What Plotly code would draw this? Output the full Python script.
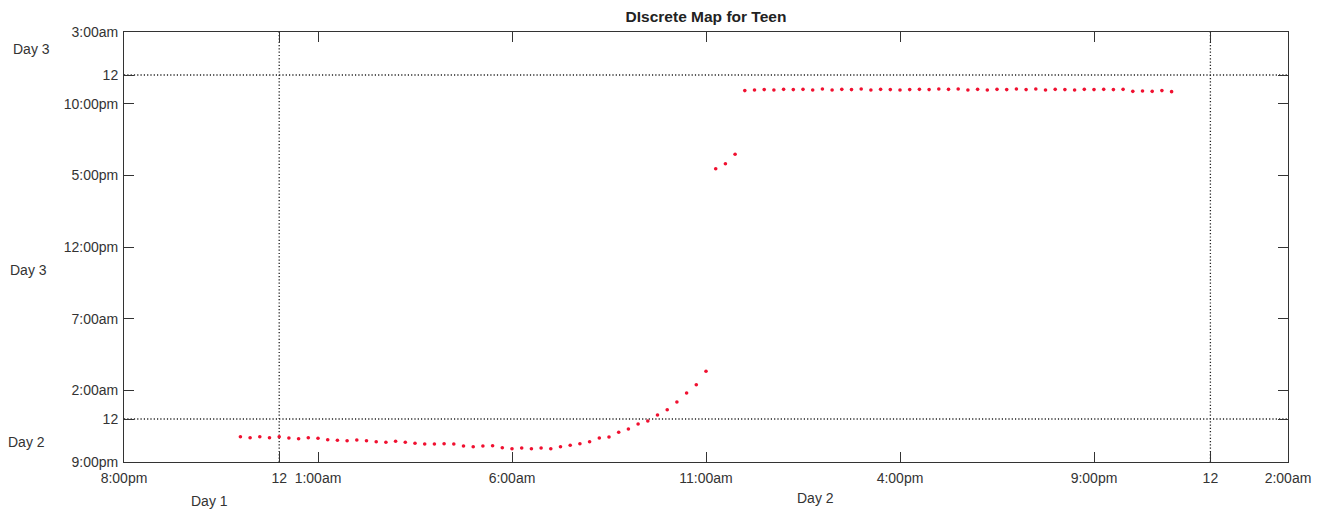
import plotly.graph_objects as go

# x: hours after 8:00pm Day 1 ; y: hours after 9:00pm Day 2
early_x = [3.0, 3.25, 3.5, 3.75, 4.0, 4.25, 4.5, 4.75, 5.0, 5.25, 5.5, 5.75,
           6.0, 6.25, 6.5, 6.75, 7.0, 7.25, 7.5, 7.75, 8.0, 8.25, 8.5, 8.75,
           9.0, 9.25, 9.5, 9.75, 10.0, 10.25, 10.5, 10.75, 11.0, 11.25, 11.5, 11.75,
           12.0, 12.25, 12.5, 12.75, 13.0, 13.25, 13.5, 13.75, 14.0, 14.25, 14.5, 14.75, 15.0]
early_y = [1.765, 1.695, 1.765, 1.695, 1.765, 1.674, 1.626, 1.695, 1.654, 1.556,
           1.514, 1.486, 1.535, 1.486, 1.416, 1.374, 1.444, 1.374, 1.305, 1.256,
           1.256, 1.277, 1.256, 1.116, 1.067, 1.116, 1.137, 0.998, 0.928, 0.977,
           0.928, 0.977, 0.928, 1.067, 1.165, 1.277, 1.416, 1.674, 1.744, 2.072,
           2.302, 2.651, 2.860, 3.279, 3.649, 4.186, 4.814, 5.393, 6.328]

mid_x = [15.25, 15.5, 15.75]
mid_y = [20.46, 20.81, 21.47]

late_x = [16.0, 16.25, 16.5, 16.75, 17.0, 17.25, 17.5, 17.75, 18.0, 18.25, 18.5, 18.75,
          19.0, 19.25, 19.5, 19.75, 20.0, 20.25, 20.5, 20.75, 21.0, 21.25, 21.5, 21.75,
          22.0, 22.25, 22.5, 22.75, 23.0, 23.25, 23.5, 23.75, 24.0, 24.25, 24.5, 24.75,
          25.0, 25.25, 25.5, 25.75, 26.0, 26.25, 26.5, 26.75, 27.0]
late_y = [25.91, 25.95, 25.98, 25.95, 26.00, 25.98, 26.00, 25.95, 26.02, 25.95, 26.00, 25.98,
          26.02, 25.95, 26.00, 25.98, 25.95, 25.98, 26.00, 25.98, 26.02, 26.00, 26.02, 25.95,
          26.00, 25.95, 26.00, 25.98, 26.02, 25.98, 26.02, 25.95, 26.00, 25.98, 25.95, 26.00,
          25.98, 26.00, 25.98, 26.00, 25.86, 25.88, 25.86, 25.91, 25.84]

x_tickvals = [0, 4, 5, 10, 15, 20, 25, 28, 30]
x_ticktext = ["8:00pm", "12", "1:00am", "6:00am", "11:00am", "4:00pm", "9:00pm", "12", "2:00am"]
y_tickvals = [0, 3, 5, 10, 15, 20, 25, 27, 30]
y_ticktext = ["9:00pm", "12", "2:00am", "7:00am", "12:00pm", "5:00pm", "10:00pm", "12", "3:00am"]

midnight_x = [4, 28]
midnight_y = [3, 27]

day_labels_y = [("Day 3", 28.81), ("Day 3", 13.4), ("Day 2", 1.42)]
day_labels_x = [("Day 1", 2.2), ("Day 2", 17.83)]

FONT = "Liberation Sans, Arial, Helvetica, sans-serif"
TXT = "#333333"
FS = 14

fig = go.Figure()
for xs, ys in [(early_x, early_y), (mid_x, mid_y), (late_x, late_y)]:
    fig.add_trace(go.Scatter(x=xs, y=ys, mode="markers",
                             marker=dict(color="#f01030", size=3.6, line=dict(width=0)),
                             showlegend=False, hoverinfo="x+y"))

for xv in midnight_x:
    fig.add_shape(type="line", xref="x", yref="y", x0=xv, x1=xv, y0=0, y1=30,
                  line=dict(color="#222222", width=1.3, dash="1.2px,2.1px"), layer="below")
for yv in midnight_y:
    fig.add_shape(type="line", xref="x", yref="y", x0=0, x1=30, y0=yv, y1=yv,
                  line=dict(color="#222222", width=1.3, dash="1.2px,2.1px"), layer="below")

y_label_x = [-93, -96, -98]
for (txt, yv), dx in zip(day_labels_y, y_label_x):
    fig.add_annotation(text=txt, xref="paper", x=0, xshift=dx, xanchor="center",
                       y=yv, yref="y", showarrow=False,
                       font=dict(family=FONT, size=FS, color=TXT))
x_label_dy = [-39, -36]
for (txt, xv), dy in zip(day_labels_x, x_label_dy):
    fig.add_annotation(text=txt, xref="x", x=xv, xanchor="center", yref="paper", y=0,
                       yshift=dy, yanchor="middle", showarrow=False,
                       font=dict(family=FONT, size=FS, color=TXT))

axis_common = dict(showgrid=False, zeroline=False, showline=True, linecolor="#333333",
                   linewidth=1, mirror="ticks", ticks="inside", ticklen=10,
                   tickcolor="#333333", tickwidth=1,
                   tickfont=dict(family=FONT, size=FS, color=TXT))

fig.update_xaxes(range=[0, 30], tickmode="array", tickvals=x_tickvals, ticktext=x_ticktext,
                 ticklabelstandoff=3, **axis_common)
fig.update_yaxes(range=[0, 30], tickmode="array", tickvals=y_tickvals, ticktext=y_ticktext,
                 ticklabelstandoff=2, **axis_common)

fig.update_layout(
    width=1330, height=513,
    margin=dict(l=124, r=42, t=32, b=51),
    paper_bgcolor="white", plot_bgcolor="white",
    title=dict(text="<b>DIscrete Map for Teen</b>", x=(124 + 1288) / 2 / 1330, xanchor="center",
               y=1 - 17 / 513, yanchor="middle", yref="container",
               font=dict(family=FONT, size=15.5, color="#222222")),
    font=dict(family=FONT, size=FS, color=TXT),
)

fig.write_html("out.html")
